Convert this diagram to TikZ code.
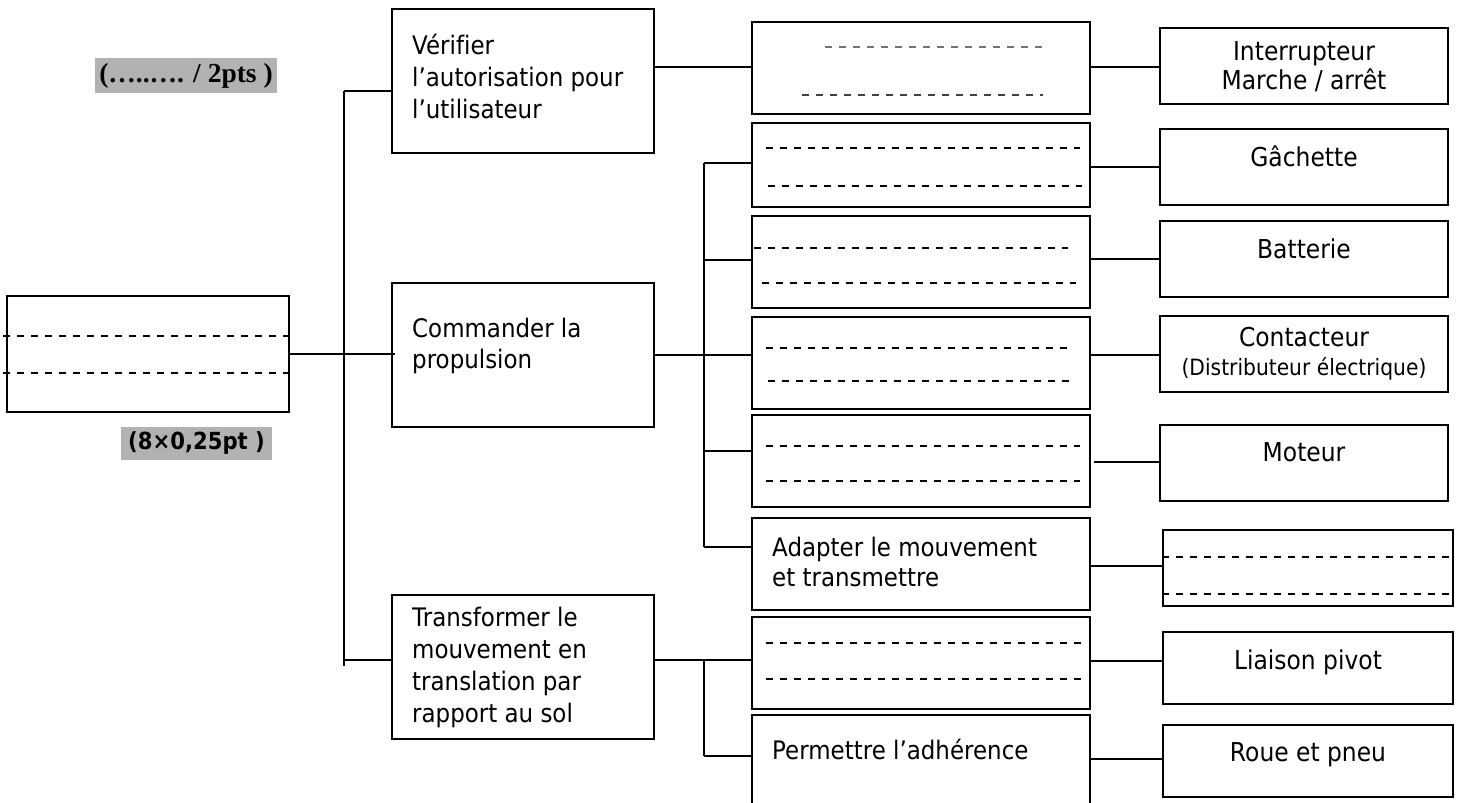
\documentclass[tikz,border=0pt]{standalone}
\usepackage{fontspec}
\setmainfont{DejaVu Sans}[FakeStretch=0.9, Ligatures=NoCommon]
\newfontfamily\tmsf{Liberation Serif}
\newfontfamily\lblf{DejaVu Sans}[FakeStretch=0.9]
\usetikzlibrary{calc}
\tikzset{
  boxx/.style={draw, line width=1.6pt, inner sep=0pt},
  wire/.style={line width=1.6pt},
  dline/.style={line width=1.5pt, dash pattern=on 7pt off 7pt},
  tl/.style={inner sep=0pt, anchor=base west, font=\fontsize{25.5}{31}\selectfont},
  tc/.style={inner sep=0pt, anchor=base, font=\fontsize{26}{31}\selectfont},
}
\begin{document}
\begin{tikzpicture}[x=1pt,y=-1pt]
\clip (0,0) rectangle (1457,803);
\fill[white] (0,0) rectangle (1457,803);

% labels
\node[fill=black!30, minimum width=182, minimum height=35, inner sep=0pt, font=\tmsf\bfseries\fontsize{27.5}{30}\selectfont] (pts) at (186,75.5) {(…..…. / 2pts )};
\node[fill=black!30, minimum width=151, minimum height=33, inner sep=0pt, font=\lblf\bfseries\fontsize{23.5}{26}\selectfont] (sc) at (196.5,443) {(8×0,25pt )};

% column 1
\node[boxx, minimum width=282, minimum height=116] (L) at (148,354) {};
\coordinate (la1) at (3,336); \coordinate (la2) at (3,373);
\draw[dline] (la1) -- (la1 -| L.east);
\draw[dline] (la2) -- (la2 -| L.east);

% column 2
\node[boxx, minimum width=262, minimum height=144] (V) at (523,81) {};
\node[boxx, minimum width=262, minimum height=144] (C) at (523,355) {};
\node[boxx, minimum width=262, minimum height=144] (T) at (523,667) {};
\node[tl] (v1) at (412,54) {Vérifier};
\node[tl] (v2) at (412,86) {l’autorisation pour};
\node[tl] (v3) at (412,118) {l’utilisateur};
\node[tl] (c1) at (412,337) {Commander la};
\node[tl] (c2) at (412,368) {propulsion};
\node[tl] (t1) at (412,626) {Transformer le};
\node[tl] (t2) at (412,658) {mouvement en};
\node[tl] (t3) at (412,690) {translation par};
\node[tl] (t4) at (412,722) {rapport au sol};

% column 3
\node[boxx, minimum width=338, minimum height=92] (B1) at (921,68) {};
\node[boxx, minimum width=338, minimum height=84] (B2) at (921,165) {};
\node[boxx, minimum width=338, minimum height=92] (B3) at (921,262) {};
\node[boxx, minimum width=338, minimum height=92] (B4) at (921,363) {};
\node[boxx, minimum width=338, minimum height=92] (B5) at (921,461) {};
\node[boxx, minimum width=338, minimum height=92] (AD) at (921,564) {};
\node[boxx, minimum width=338, minimum height=92] (B7) at (921,663) {};
\node[boxx, minimum width=338, minimum height=116] (PE) at (921,773) {};
\node[tl] (a1) at (772,556) {Adapter le mouvement};
\node[tl] (a2) at (772,586) {et transmettre};
\node[tl] (p1) at (772,759) {Permettre l’adhérence};

% dashed answer lines in column 3
\draw[dline, black!55] (825,47) -- (1043,47);
\draw[dline, black!75] (802,95) -- (1043,95);
\draw[dline] (766,148) -- (1080,148);
\draw[dline] (768,186) -- (1082,186);
\draw[dline] (754,248) -- (1068,248);
\draw[dline] (762,283) -- (1076,283);
\draw[dline] (766,348) -- (1068,348);
\draw[dline] (768,381) -- (1071,381);
\draw[dline] (766,446) -- (1080,446);
\draw[dline] (766,481) -- (1080,481);
\draw[dline] (766,643) -- (1083,643);
\draw[dline] (766,679) -- (1083,679);

% column 4
\node[boxx, minimum width=288, minimum height=76] (IN) at (1304,66) {};
\node[boxx, minimum width=288, minimum height=76] (GA) at (1304,167) {};
\node[boxx, minimum width=288, minimum height=76] (BA) at (1304,259) {};
\node[boxx, minimum width=288, minimum height=76] (CO) at (1304,354) {};
\node[boxx, minimum width=288, minimum height=76] (MO) at (1304,463) {};
\node[boxx, minimum width=290, minimum height=76] (DB) at (1308,568) {};
\node[boxx, minimum width=290, minimum height=72] (LP) at (1308,668) {};
\node[boxx, minimum width=290, minimum height=72] (RP) at (1308,761) {};
\node[tc] (in1) at (1304,60) {Interrupteur};
\node[tc] (in2) at (1304,89) {Marche / arrêt};
\node[tc] (ga1) at (1304,166) {Gâchette};
\node[tc] (ba1) at (1304,258) {Batterie};
\node[tc] (co1) at (1304,346) {Contacteur};
\node[tc, font=\fontsize{22.5}{27}\selectfont] (co2) at (1304,375) {(Distributeur électrique)};
\node[tc] (mo1) at (1304,461) {Moteur};
\node[tc] (lp1) at (1308,669) {Liaison pivot};
\node[tc] (rp1) at (1308,761) {Roue et pneu};
\draw[dline] (DB.west |- 0,557) -- (DB.east |- 0,557);
\draw[dline, line width=1.8pt] (DB.west |- 0,594) -- (DB.east |- 0,594);

% connectors: level 1
\coordinate (ja) at (344,91);
\coordinate (jb) at (344,666);
\coordinate (jt) at (344,660);
\draw[wire] (ja) -- (jb);
\draw[wire] (ja) -- (ja -| V.west);
\draw[wire] (L.east) -- ($(L.east -| C.west)+(4,0)$);
\draw[wire] (jt) -- (jt -| T.west);

% connectors: level 2
\coordinate (kv) at (656,67);
\draw[wire] (V.east |- kv) -- (B1.west |- kv);
\coordinate (kc) at (704,355);
\draw[wire] (C.east |- kc) -- (kc);
\coordinate (kt1) at (704,163);
\coordinate (kt2) at (704,260);
\coordinate (kt4) at (704,451);
\coordinate (kt5) at (704,547);
\draw[wire] (kt1) -- (kt5);
\draw[wire] (kt1) -- (kt1 -| B2.west);
\draw[wire] (kt2) -- (kt2 -| B3.west);
\draw[wire] (kc) -- (kc -| B4.west);
\draw[wire] (kt4) -- (kt4 -| B5.west);
\draw[wire] (kt5) -- (kt5 -| AD.west);
\coordinate (km) at (704,660);
\coordinate (kn) at (704,756);
\draw[wire] (T.east |- km) -- (B7.west |- km);
\draw[wire] (km) -- (kn);
\draw[wire] (kn) -- (kn -| PE.west);

% connectors: level 3
\coordinate (r1) at (1090,67);
\coordinate (r2) at (1090,167);
\coordinate (r3) at (1090,259);
\coordinate (r4) at (1090,355);
\coordinate (r5) at (1094,462);
\coordinate (r6) at (1090,566);
\coordinate (r7) at (1090,661);
\coordinate (r8) at (1090,759);
\draw[wire] (B1.east |- r1) -- (IN.west |- r1);
\draw[wire] (B2.east |- r2) -- (GA.west |- r2);
\draw[wire] (B3.east |- r3) -- (BA.west |- r3);
\draw[wire] (B4.east |- r4) -- (CO.west |- r4);
\draw[wire] (r5) -- (MO.west |- r5);
\draw[wire] (AD.east |- r6) -- (DB.west |- r6);
\draw[wire] (B7.east |- r7) -- (LP.west |- r7);
\draw[wire] (PE.east |- r8) -- (RP.west |- r8);
\end{tikzpicture}
\end{document}
